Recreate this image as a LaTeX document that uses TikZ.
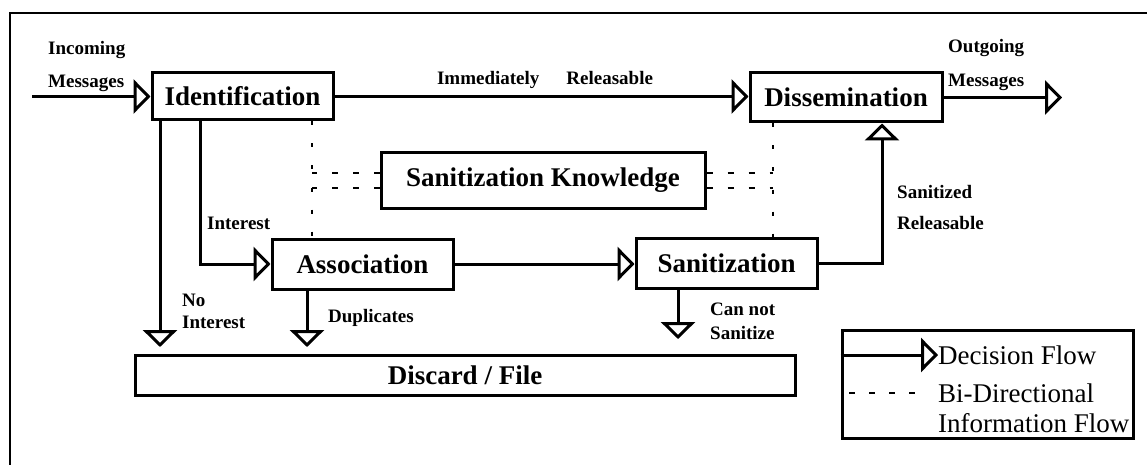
\documentclass[tikz,border=0pt]{standalone}
\usepackage{fontspec}
\setmainfont{Liberation Serif}
\usetikzlibrary{arrows.meta}
\begin{document}
\begin{tikzpicture}[x=1pt,y=-1pt,
  box/.style={draw, line width=3pt, inner sep=0pt, font=\fontsize{27}{27}\selectfont\bfseries},
  flow/.style={line width=3pt, -{Triangle[open,length=17pt,width=34pt]}},
  info/.style={line width=2.5pt, dash pattern=on 4pt off 18pt},
  infoh/.style={line width=2.5pt, dash pattern=on 6pt off 15pt},
  legdash/.style={line width=2.5pt, dash pattern=on 6pt off 14pt},
  lbl/.style={inner sep=0pt, align=left, anchor=west},
  legtxt/.style={inner sep=0pt, align=left, anchor=west, font=\fontsize{27}{30}\selectfont},
]
\useasboundingbox (0,0) rectangle (1147,465);
% outer frame
\draw[line width=2.5pt] (10,465) -- (10,13) -- (1147,13);

% boxes
\node[box, minimum width=181pt, minimum height=47pt] (id) at (242.5,96.5) {Identification};
\node[box, minimum width=192pt, minimum height=49pt] (dis) at (846,97.5) {Dissemination};
\node[box, minimum width=324pt, minimum height=55pt] (sk) at (543,180.5) {Sanitization Knowledge};
\node[box, minimum width=181pt, minimum height=50pt] (as) at (362.5,264) {Association};
\node[box, minimum width=181pt, minimum height=50pt] (sa) at (726.5,263) {Sanitization};
\node[box, minimum width=660pt, minimum height=40pt] (dc) at (465,375) {Discard / File};

% coordinates
\coordinate (inA) at (32,96.5);
\coordinate (out) at (1062,97.5);
\coordinate (ni) at (160,347);
\coordinate (it) at (200,0);
\coordinate (dup) at (307,347);
\coordinate (cn) at (678,339);
\coordinate (bend) at (882,0);
\coordinate (dl) at (312,0);
\coordinate (dr) at (773,0);

% decision flows
\draw[flow] (inA) -- (id.west);
\draw[flow] (id.east) -- (id.east -| dis.west);
\draw[flow] (dis.east) -- (out);
\draw[flow] (id.south -| it) |- (as.west);
\draw[flow] (id.south -| ni) -- (ni);
\draw[flow] (as.south -| dup) -- (dup);
\draw[flow] (as.east) -- (as.east -| sa.west);
\draw[flow] (sa.south -| cn) -- (cn);
\draw[flow] (sa.east) -| (dis.south -| bend);

% information flows
\draw[info] (id.south -| dl) -- (as.north -| dl);
\draw[info] (dis.south -| dr) -- (sa.north -| dr);
\draw[infoh] ([yshift=7.5pt]sk.west) -- ([yshift=7.5pt]sk.west -| dl);
\draw[infoh] ([yshift=-7.5pt]sk.west) -- ([yshift=-7.5pt]sk.west -| dl);
\draw[infoh] ([yshift=7.5pt]sk.east) -- ([yshift=7.5pt]sk.east -| dr);
\draw[infoh] ([yshift=-7.5pt]sk.east) -- ([yshift=-7.5pt]sk.east -| dr);

% labels
\node[lbl, font=\fontsize{19}{33}\selectfont\bfseries] (lin) at (48,66.5) {Incoming\\Messages};
\node[inner sep=0pt, font=\fontsize{19}{19}\selectfont\bfseries] (lir) at (545,80) {Immediately\hspace{27pt}Releasable};
\node[lbl, font=\fontsize{19}{34}\selectfont\bfseries] (lout) at (948,65) {Outgoing\\Messages};
\node[lbl, font=\fontsize{19}{31}\selectfont\bfseries] (lsr) at (897,207.5) {Sanitized\\Releasable};
\node[lbl, font=\fontsize{19}{19}\selectfont\bfseries] (lint) at (207,223) {Interest};
\node[lbl, font=\fontsize{19}{22}\selectfont\bfseries] (lni) at (182,311) {No\\Interest};
\node[lbl, font=\fontsize{19}{19}\selectfont\bfseries] (ldup) at (328,318) {Duplicates};
\node[lbl, font=\fontsize{19}{24}\selectfont\bfseries] (lcn) at (710,321) {Can not\\Sanitize};

% legend
\node[draw, line width=3pt, minimum width=291pt, minimum height=108pt, inner sep=0pt] (leg) at (987.5,384) {};
\node[legtxt] (df) at (938,355) {Decision Flow};
\node[legtxt] (bd) at (938,408) {Bi-Directional\\Information Flow};
\draw[flow] (leg.west |- df.west) -- (df.west);
\coordinate (bdl) at (849,393);
\coordinate (bdr) at (919,393);
\draw[legdash] (bdl) -- (bdr);
\end{tikzpicture}
\end{document}
